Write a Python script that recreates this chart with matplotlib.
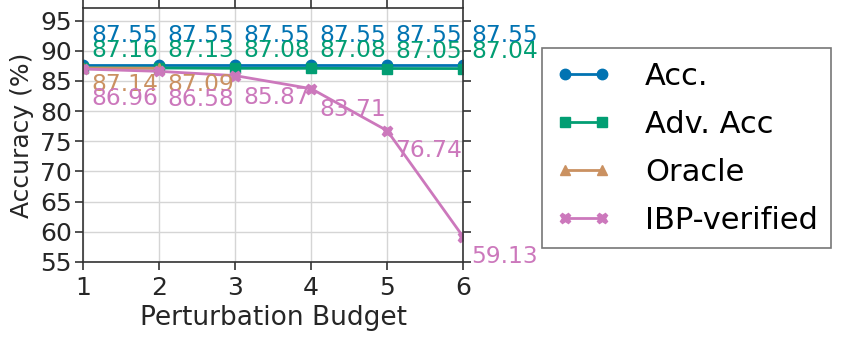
import numpy as np
import matplotlib.pyplot as plt

# data
budget = [1, 2, 3, 4, 5, 6]
acc = [87.55, 87.55, 87.55, 87.55, 87.55, 87.55]
adv_acc = [87.16, 87.13, 87.08, 87.08, 87.05, 87.04]
oracle_x = [1, 2]
oracle = [87.14, 87.09]
ibp = [86.96, 86.58, 85.87, 83.71, 76.74, 59.13]

# label offsets (data units) per series
acc_off = [5.0] * 6
adv_off = [2.9] * 6
oracle_off = [-2.7, -2.7]
ibp_off = [-4.9, -4.6, -3.6, -3.4, -3.3, -3.2]

colors = {'acc': '#0173B2', 'adv': '#029E73', 'oracle': '#CA9161', 'ibp': '#CC78BC'}

plt.rcParams['font.family'] = 'DejaVu Sans'
fig = plt.figure(figsize=(8.47, 3.38), dpi=100)
ax = fig.add_axes([0.098, 0.225, 0.449, 0.75])

ax.plot(budget, acc, marker='o', ms=7.5, lw=2, color=colors['acc'], label='Acc.')
ax.plot(budget, adv_acc, marker='s', ms=7.5, lw=2, color=colors['adv'], label='Adv. Acc')
ax.plot(oracle_x, oracle, marker='^', ms=7.5, lw=2, color=colors['oracle'], label='Oracle')
ax.plot(budget, ibp, marker='X', ms=7.5, lw=2, color=colors['ibp'], label='IBP-verified')

def put_labels(xs, ys, offs, c):
    for x, y, o in zip(xs, ys, offs):
        ax.text(x + 0.11, y + o, f'{y:.2f}', color=c, fontsize=16.8,
                ha='left', va='center', clip_on=False)

put_labels(budget, acc, acc_off, colors['acc'])
put_labels(budget, adv_acc, adv_off, colors['adv'])
put_labels(oracle_x, oracle, oracle_off, colors['oracle'])
put_labels(budget, ibp, ibp_off, colors['ibp'])

ax.set_xlim(1, 6)
ax.set_ylim(55, 97)
ax.set_xticks(budget)
ax.set_yticks(np.arange(55, 96, 5))
ax.grid(True, color='#d5d5d5', lw=1)
ax.set_axisbelow(True)
for s in ax.spines.values():
    s.set_color('#333333')
    s.set_linewidth(1.2)
ax.tick_params(axis='both', direction='out', length=6, width=1.2, color='#333333',
               labelsize=18, labelcolor='#262626', top=True, right=True, pad=2)
ax.tick_params(axis='x', pad=4)
ax.set_xlabel('Perturbation Budget', fontsize=19, color='#262626', labelpad=4)
ax.set_ylabel('Accuracy (%)', fontsize=18, color='#262626', labelpad=4)

leg = ax.legend(loc='center left', bbox_to_anchor=(1.208, 0.449), fontsize=22,
                borderaxespad=0, frameon=True, fancybox=False, edgecolor='#555555',
                numpoints=2, handlelength=1.8, borderpad=0.45, labelspacing=0.62,
                handletextpad=1.1)
leg.get_frame().set_linewidth(1.2)

fig.savefig('out.png', dpi=100)
